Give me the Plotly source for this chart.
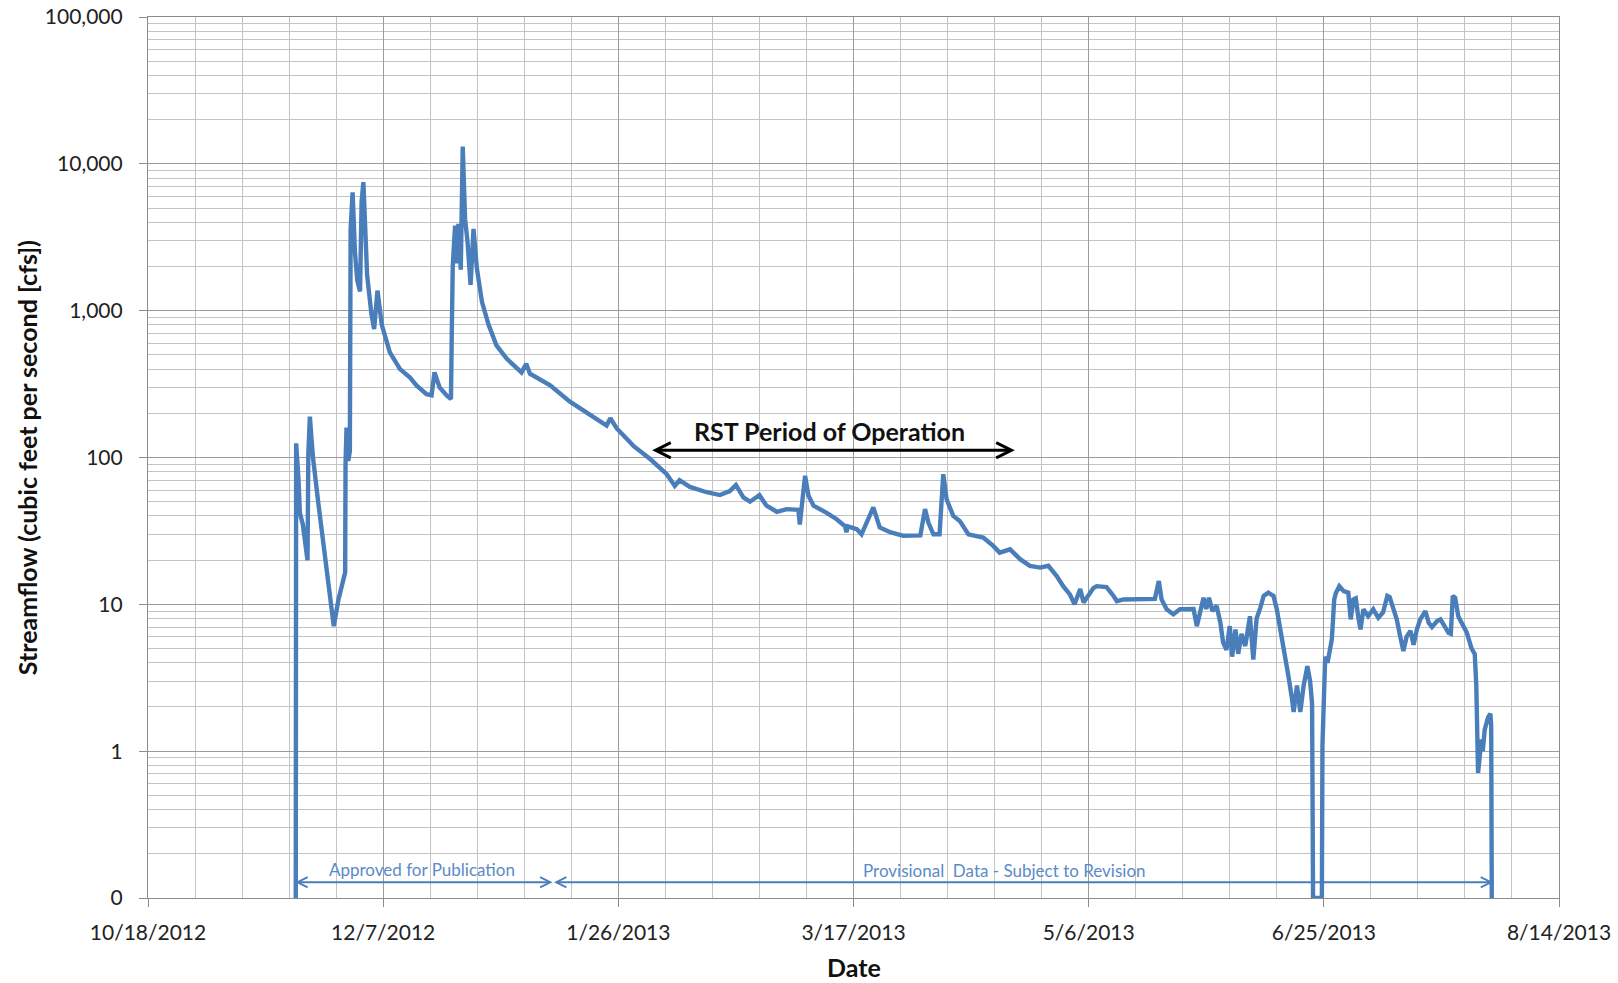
import math
import plotly.graph_objects as go

# Streamflow record (cfs), timestamps of the plotted points
flow_time = [
    "2012-11-18 10:00", "2012-11-18 12:00", "2012-11-19 00:00", "2012-11-19 07:00", "2012-11-19 22:00",
    "2012-11-20 10:00", "2012-11-20 22:00", "2012-11-21 02:00", "2012-11-21 10:00", "2012-11-21 19:00",
    "2012-11-22 02:00", "2012-11-23 05:00", "2012-11-24 02:00", "2012-11-25 00:00", "2012-11-25 17:00",
    "2012-11-26 00:00", "2012-11-26 12:00", "2012-11-27 12:00", "2012-11-28 22:00", "2012-11-29 00:00",
    "2012-11-29 05:00", "2012-11-29 14:00", "2012-11-29 22:00", "2012-11-30 02:00", "2012-11-30 12:00",
    "2012-12-01 00:00", "2012-12-01 12:00", "2012-12-02 02:00", "2012-12-02 10:00", "2012-12-02 19:00",
    "2012-12-03 05:00", "2012-12-03 14:00", "2012-12-04 12:00", "2012-12-05 02:00", "2012-12-05 19:00",
    "2012-12-06 17:00", "2012-12-08 10:00", "2012-12-10 14:00", "2012-12-12 17:00", "2012-12-14 02:00",
    "2012-12-16 05:00", "2012-12-17 07:00", "2012-12-17 22:00", "2012-12-19 00:00", "2012-12-20 12:00",
    "2012-12-21 10:00", "2012-12-21 14:00", "2012-12-21 19:00", "2012-12-22 07:00", "2012-12-22 14:00",
    "2012-12-23 00:00", "2012-12-23 12:00", "2012-12-23 22:00", "2012-12-24 10:00", "2012-12-24 22:00",
    "2012-12-25 14:00", "2012-12-26 05:00", "2012-12-26 22:00", "2012-12-28 00:00", "2012-12-29 10:00",
    "2012-12-31 02:00", "2013-01-02 07:00", "2013-01-05 10:00", "2013-01-06 10:00", "2013-01-07 05:00",
    "2013-01-11 12:00", "2013-01-15 17:00", "2013-01-17 22:00", "2013-01-21 00:00", "2013-01-23 12:00",
    "2013-01-24 07:00", "2013-01-25 17:00", "2013-01-28 12:00", "2013-01-29 05:00", "2013-02-01 17:00",
    "2013-02-05 07:00", "2013-02-07 00:00", "2013-02-08 00:00", "2013-02-10 05:00", "2013-02-13 19:00",
    "2013-02-16 14:00", "2013-02-18 17:00", "2013-02-20 00:00", "2013-02-21 14:00", "2013-02-23 00:00",
    "2013-02-25 00:00", "2013-02-26 12:00", "2013-02-28 17:00", "2013-03-02 19:00", "2013-03-05 07:00",
    "2013-03-05 14:00", "2013-03-06 00:00", "2013-03-06 17:00", "2013-03-07 10:00", "2013-03-08 12:00",
    "2013-03-11 07:00", "2013-03-13 10:00", "2013-03-15 05:00", "2013-03-15 12:00", "2013-03-15 19:00",
    "2013-03-17 17:00", "2013-03-18 17:00", "2013-03-21 05:00", "2013-03-22 14:00", "2013-03-24 19:00",
    "2013-03-27 14:00", "2013-03-31 05:00", "2013-04-01 05:00", "2013-04-01 22:00", "2013-04-03 00:00",
    "2013-04-04 07:00", "2013-04-05 02:00", "2013-04-05 19:00", "2013-04-07 05:00", "2013-04-08 14:00",
    "2013-04-10 10:00", "2013-04-11 12:00", "2013-04-13 14:00", "2013-04-15 17:00", "2013-04-17 02:00",
    "2013-04-19 07:00", "2013-04-21 10:00", "2013-04-23 12:00", "2013-04-25 17:00", "2013-04-27 10:00",
    "2013-04-29 05:00", "2013-04-30 14:00", "2013-05-02 00:00", "2013-05-03 00:00", "2013-05-04 05:00",
    "2013-05-04 22:00", "2013-05-06 07:00", "2013-05-07 00:00", "2013-05-07 17:00", "2013-05-09 19:00",
    "2013-05-11 07:00", "2013-05-12 00:00", "2013-05-13 10:00", "2013-05-15 12:00", "2013-05-17 14:00",
    "2013-05-20 02:00", "2013-05-20 22:00", "2013-05-21 12:00", "2013-05-22 14:00", "2013-05-24 00:00",
    "2013-05-25 10:00", "2013-05-27 14:00", "2013-05-28 07:00", "2013-05-29 00:00", "2013-05-30 10:00",
    "2013-05-31 00:00", "2013-05-31 14:00", "2013-06-01 07:00", "2013-06-02 05:00", "2013-06-03 00:00",
    "2013-06-03 14:00", "2013-06-04 07:00", "2013-06-05 00:00", "2013-06-05 12:00", "2013-06-06 05:00",
    "2013-06-06 19:00", "2013-06-07 12:00", "2013-06-08 07:00", "2013-06-09 07:00", "2013-06-10 00:00",
    "2013-06-10 17:00", "2013-06-11 12:00", "2013-06-12 05:00", "2013-06-13 05:00", "2013-06-14 07:00",
    "2013-06-15 00:00", "2013-06-16 00:00", "2013-06-16 19:00", "2013-06-17 12:00", "2013-06-18 05:00",
    "2013-06-18 14:00", "2013-06-19 07:00", "2013-06-20 00:00", "2013-06-20 17:00", "2013-06-21 12:00",
    "2013-06-22 02:00", "2013-06-22 12:00", "2013-06-22 17:00", "2013-06-24 14:00", "2013-06-24 17:00",
    "2013-06-24 22:00", "2013-06-25 07:00", "2013-06-25 19:00", "2013-06-26 07:00", "2013-06-26 17:00",
    "2013-06-27 05:00", "2013-06-27 14:00", "2013-06-28 07:00", "2013-06-29 05:00", "2013-06-30 05:00",
    "2013-06-30 17:00", "2013-07-01 07:00", "2013-07-01 19:00", "2013-07-02 07:00", "2013-07-02 19:00",
    "2013-07-03 10:00", "2013-07-04 10:00", "2013-07-05 12:00", "2013-07-06 14:00", "2013-07-07 14:00",
    "2013-07-08 12:00", "2013-07-09 00:00", "2013-07-09 19:00", "2013-07-10 12:00", "2013-07-11 05:00",
    "2013-07-11 22:00", "2013-07-12 14:00", "2013-07-13 10:00", "2013-07-14 02:00", "2013-07-14 19:00",
    "2013-07-15 12:00", "2013-07-16 14:00", "2013-07-17 07:00", "2013-07-18 00:00", "2013-07-19 02:00",
    "2013-07-19 19:00", "2013-07-20 19:00", "2013-07-21 12:00", "2013-07-22 00:00", "2013-07-22 10:00",
    "2013-07-22 22:00", "2013-07-23 14:00", "2013-07-24 07:00", "2013-07-25 10:00", "2013-07-26 10:00",
    "2013-07-27 02:00", "2013-07-27 10:00", "2013-07-27 14:00", "2013-07-27 19:00", "2013-07-28 12:00",
    "2013-07-28 19:00", "2013-07-29 05:00", "2013-07-29 22:00", "2013-07-30 10:00", "2013-07-30 14:00",
    "2013-07-30 17:00",
]
flow_cfs = [
    0.1, 125, 70, 42, 35,
    26, 20, 105, 190, 130,
    100, 49, 29, 16.4, 11,
    9.5, 7.1, 10.8, 16.5, 90,
    160, 95, 110, 3600, 6400,
    2500, 1600, 1350, 5500, 7500,
    3500, 1750, 950, 750, 1370,
    800, 520, 400, 350, 310,
    270, 265, 380, 300, 265,
    250, 700, 2000, 3800, 2100,
    3900, 1900, 13100, 4200, 3000,
    1500, 3600, 1950, 1150, 800,
    580, 470, 380, 435, 372,
    310, 240, 215, 185, 165,
    185, 157, 127, 120, 98,
    77, 64, 70, 63, 58,
    55.5, 59, 65, 53.5, 50,
    55.5, 47, 42.7, 44.5, 44,
    35, 45, 75, 55, 47,
    42, 38, 34, 31, 34,
    32.5, 30, 45.7, 33.4, 31,
    29.3, 29.5, 44.5, 36, 30,
    30, 77, 52, 40, 37,
    30, 29.3, 28.5, 25, 22.5,
    23.7, 20.3, 18.3, 17.8, 18.3,
    15.6, 13.3, 11.7, 10, 12.7,
    10.3, 12, 12.9, 13.3, 13.1,
    11.4, 10.5, 10.8, 10.8, 10.9,
    10.9, 14.4, 10.8, 9.25, 8.55,
    9.25, 9.25, 9.3, 7.1, 11.1,
    9.3, 11.1, 9.0, 9.75, 7.5,
    5.5, 4.9, 7.1, 4.4, 6.75,
    4.6, 6.3, 5.2, 8.3, 4.2,
    8.0, 9.5, 11.4, 12, 11.4,
    9.25, 6.1, 4.7, 3.2, 2.3,
    1.85, 2.8, 1.85, 2.8, 3.8,
    3.0, 2.1, 0.1, 0.1, 1.1,
    2.0, 4.4, 4.0, 4.7, 5.8,
    10.8, 12, 13.3, 12.3, 12,
    7.9, 10.8, 11, 8.3, 6.75,
    9.25, 8.3, 9.25, 8.1, 8.8,
    11.4, 11.2, 9.25, 7.9, 6.1,
    4.8, 6.0, 6.6, 5.3, 6.75,
    7.9, 9.0, 7.5, 7.0, 7.7,
    7.9, 7.0, 6.4, 6.3, 11.4,
    11.1, 8.3, 7.5, 6.4, 5.0,
    4.6, 2.8, 1.3, 0.71, 1.2,
    1.0, 1.4, 1.7, 1.8, 1.5,
    0.1,
]

# Axis ticks
date_ticks = ["2012-10-18", "2012-12-07", "2013-01-26", "2013-03-17",
              "2013-05-06", "2013-06-25", "2013-08-14"]
date_labels = ["10/18/2012", "12/7/2012", "1/26/2013", "3/17/2013",
               "5/6/2013", "6/25/2013", "8/14/2013"]
flow_ticks = [0.1, 1, 10, 100, 1000, 10000, 100000]
flow_labels = ["0", "1", "10", "100", "1,000", "10,000", "100,000"]

# Annotated periods
rst_period = ("2013-02-01 21:00", "2013-04-20 07:00")
approved_period = ("2012-11-18 00:00", "2013-01-12 00:00")
provisional_period = ("2013-01-12 00:00", "2013-07-31 00:00")

LINE_BLUE = "#4A7EBB"
NOTE_BLUE = "#5B8AC8"
MAJOR_GRID = "#9C9C9C"
MINOR_GRID = "#C4C4C4"
FONT = "Lato, 'Open Sans', sans-serif"

fig = go.Figure()
fig.add_trace(go.Scatter(
    x=flow_time, y=flow_cfs, mode="lines",
    line=dict(color=LINE_BLUE, width=4.4),
    hoverinfo="x+y", showlegend=False,
))

minor_flow = [m * 10 ** e for e in range(-1, 5) for m in range(2, 10)]

fig.update_xaxes(
    type="date",
    range=[date_ticks[0], date_ticks[-1]],
    tickmode="array", tickvals=date_ticks, ticktext=date_labels,
    ticks="outside", ticklen=8, tickcolor="#8C8C8C", tickwidth=1,
    ticklabelstandoff=8,
    tickfont=dict(family=FONT, size=21, color="#222222"),
    showgrid=True, gridcolor=MAJOR_GRID, gridwidth=1.2,
    showline=True, linecolor="#8C8C8C", linewidth=1.2, mirror=True,
    minor=dict(dtick=864000000, tick0="2012-10-18", showgrid=True,
               gridcolor=MINOR_GRID, gridwidth=1, ticks=""),
    zeroline=False, automargin=False,
)
fig.update_yaxes(
    type="log",
    range=[-1, 5],
    tickmode="array", tickvals=flow_ticks, ticktext=flow_labels,
    ticks="outside", ticklen=8, tickcolor="#8C8C8C", tickwidth=1,
    ticklabelstandoff=12,
    tickfont=dict(family=FONT, size=21, color="#222222"),
    showgrid=True, gridcolor=MAJOR_GRID, gridwidth=1.2,
    showline=True, linecolor="#8C8C8C", linewidth=1.2, mirror=True,
    minor=dict(tickvals=minor_flow, showgrid=True,
               gridcolor=MINOR_GRID, gridwidth=1, ticks=""),
    zeroline=False, automargin=False,
)

annotations = [
    # axis titles
    dict(text="<b>Streamflow (cubic feet per second [cfs])</b>", xref="paper", yref="paper",
         x=-0.086, y=0.5, textangle=-90, showarrow=False,
         font=dict(family=FONT, size=25, color="#111111"), xanchor="center", yanchor="middle"),
    dict(text="<b>Date</b>", xref="paper", yref="paper", x=0.5, y=-0.078,
         showarrow=False, font=dict(family=FONT, size=25, color="#111111"),
         xanchor="center", yanchor="middle"),
    # RST operation period
    dict(text="<b>RST Period of Operation</b>", x="2013-03-11 19:00", y=math.log10(150.5),
         showarrow=False, font=dict(family=FONT, size=25, color="#111111"),
         xanchor="center", yanchor="middle"),
    dict(text="", x=rst_period[1], y=math.log10(112), ax=rst_period[0], ay=math.log10(112),
         axref="x", ayref="y", showarrow=True, arrowside="end+start",
         arrowhead=5, startarrowhead=5, arrowsize=1, startarrowsize=1,
         arrowwidth=3, arrowcolor="#000000", standoff=0, startstandoff=0),
    # data status bars along the bottom
    dict(text="Approved for Publication", x="2012-12-15 07:00", y=math.log10(0.157),
         showarrow=False, font=dict(family=FONT, size=17, color=NOTE_BLUE),
         xanchor="center", yanchor="middle"),
    dict(text="", x=approved_period[1], y=math.log10(0.128), ax=approved_period[0],
         ay=math.log10(0.128), axref="x", ayref="y", showarrow=True, arrowside="end+start",
         arrowhead=5, startarrowhead=5, arrowsize=1, startarrowsize=1,
         arrowwidth=2, arrowcolor=LINE_BLUE, standoff=0, startstandoff=0),
    dict(text="Provisional  Data - Subject to Revision", x="2013-04-18 02:00",
         y=math.log10(0.153), showarrow=False,
         font=dict(family=FONT, size=17, color=NOTE_BLUE), xanchor="center", yanchor="middle"),
    dict(text="", x=provisional_period[1], y=math.log10(0.128), ax=provisional_period[0],
         ay=math.log10(0.128), axref="x", ayref="y", showarrow=True, arrowside="end+start",
         arrowhead=5, startarrowhead=5, arrowsize=1, startarrowsize=1,
         arrowwidth=2, arrowcolor=LINE_BLUE, standoff=0, startstandoff=0),
]

fig.update_layout(
    width=1618, height=983, autosize=False,
    margin=dict(l=148, r=59, t=17, b=85, pad=0),
    paper_bgcolor="white", plot_bgcolor="white",
    font=dict(family=FONT),
    annotations=annotations,
    showlegend=False,
)

fig.write_html("out.html")
